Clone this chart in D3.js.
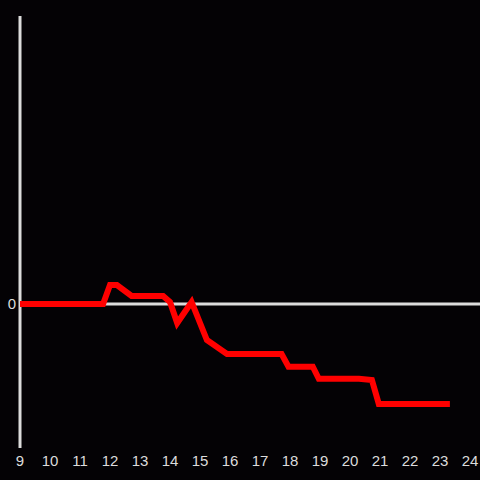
<!DOCTYPE html>
<html>
<head>
<meta charset="utf-8">
<script src="https://cdn.jsdelivr.net/npm/d3@7"></script>
<style>
  html, body { margin: 0; padding: 0; background: #040205; }
  svg { display: block; }
</style>
</head>
<body>
<svg id="chart" width="480" height="480"></svg>
<script>
// values
const xs = [9, 11.77, 12.0, 12.23, 12.72, 13.77, 14.0, 14.24, 14.72, 15.23, 15.9, 17.72, 17.95, 18.76, 18.96, 20.3, 20.73, 20.96, 23.33];
const ys = [0, 0, 0.132, 0.132, 0.056, 0.056, 0.014, -0.132, 0.014, -0.25, -0.347, -0.347, -0.435, -0.435, -0.519, -0.519, -0.528, -0.694, -0.694];
const xTicks = [9, 10, 11, 12, 13, 14, 15, 16, 17, 18, 19, 20, 21, 22, 23, 24];
const yTicks = [0];

const data = xs.map((x, i) => ({ x: x, y: ys[i] }));

const svg = d3.select('#chart');
const axisColor = '#dcdcdc';

const x = d3.scaleLinear().domain([9, 24]).range([20, 470]);
const y = d3.scaleLinear().domain([-1, 2]).range([448, 16]);

// vertical axis line
svg.append('line')
  .attr('x1', x(9)).attr('x2', x(9))
  .attr('y1', y(2)).attr('y2', y(-1))
  .attr('stroke', axisColor)
  .attr('stroke-width', 3);

// zero line
svg.selectAll('line.zero')
  .data(yTicks)
  .enter()
  .append('line')
  .attr('class', 'zero')
  .attr('x1', x(9)).attr('x2', 480)
  .attr('y1', d => y(d)).attr('y2', d => y(d))
  .attr('stroke', axisColor)
  .attr('stroke-width', 3);

svg.selectAll('text.ylab')
  .data(yTicks)
  .enter()
  .append('text')
  .attr('class', 'ylab')
  .attr('x', 16)
  .attr('y', d => y(d))
  .attr('dy', '0.35em')
  .attr('text-anchor', 'end')
  .attr('font-family', 'Liberation Sans, Arial, sans-serif')
  .attr('font-size', '15px')
  .attr('fill', axisColor)
  .text(d => d);

// x tick labels
svg.selectAll('text.xlab')
  .data(xTicks)
  .enter()
  .append('text')
  .attr('class', 'xlab')
  .attr('x', d => x(d))
  .attr('y', 461)
  .attr('dy', '0.35em')
  .attr('text-anchor', 'middle')
  .attr('font-family', 'Liberation Sans, Arial, sans-serif')
  .attr('font-size', '15px')
  .attr('fill', axisColor)
  .text(d => d);

// the red series
const line = d3.line()
  .x(d => x(d.x))
  .y(d => y(d.y));

svg.append('path')
  .datum(data)
  .attr('d', line)
  .attr('fill', 'none')
  .attr('stroke', '#ff0000')
  .attr('stroke-width', 6)
  .attr('stroke-linejoin', 'miter');
</script>
</body>
</html>
